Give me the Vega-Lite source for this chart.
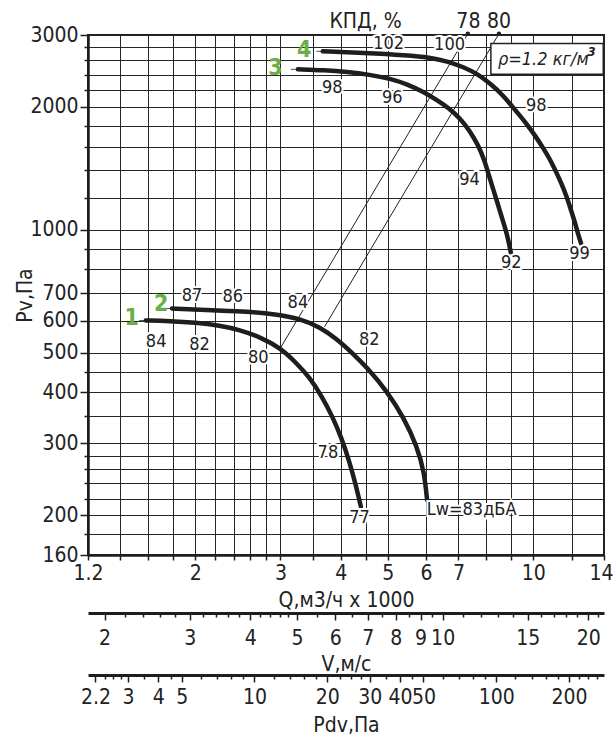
{
  "$schema": "https://vega.github.io/schema/vega-lite/v6.json",
  "width": 516,
  "height": 520,
  "autosize": {"type": "none"},
  "padding": {"left": 88, "top": 35, "right": 9, "bottom": 185},
  "background": "white",
  "config": {
    "font": "Liberation Sans Narrow, DejaVu Sans Condensed, sans-serif",
    "view": {"stroke": "#1e1e1e", "strokeWidth": 2},
    "axis": {
      "labelFontSize": 21,
      "labelColor": "#222",
      "titleFontSize": 21,
      "titleFontWeight": "normal",
      "titleColor": "#222",
      "domainColor": "#1e1e1e",
      "tickColor": "#1e1e1e",
      "labelOverlap": false,
      "labelFlush": false,
      "labelBound": false
    }
  },
  "datasets": {
    "curves": [
      {"curve": "1", "Q": 1.58, "P": 600}, {"curve": "1", "Q": 1.77, "P": 598}, {"curve": "1", "Q": 2.0, "P": 593},
      {"curve": "1", "Q": 2.25, "P": 583}, {"curve": "1", "Q": 2.47, "P": 569}, {"curve": "1", "Q": 2.72, "P": 547},
      {"curve": "1", "Q": 3.0, "P": 514}, {"curve": "1", "Q": 3.21, "P": 477}, {"curve": "1", "Q": 3.45, "P": 435},
      {"curve": "1", "Q": 3.65, "P": 392}, {"curve": "1", "Q": 3.84, "P": 350}, {"curve": "1", "Q": 4.01, "P": 310},
      {"curve": "1", "Q": 4.17, "P": 270}, {"curve": "1", "Q": 4.3, "P": 236}, {"curve": "1", "Q": 4.4, "P": 210},
      {"curve": "2", "Q": 1.79, "P": 642}, {"curve": "2", "Q": 2.04, "P": 638}, {"curve": "2", "Q": 2.36, "P": 633},
      {"curve": "2", "Q": 2.59, "P": 630}, {"curve": "2", "Q": 2.92, "P": 622}, {"curve": "2", "Q": 3.3, "P": 606},
      {"curve": "2", "Q": 3.62, "P": 578}, {"curve": "2", "Q": 3.93, "P": 540}, {"curve": "2", "Q": 4.22, "P": 500},
      {"curve": "2", "Q": 4.54, "P": 459}, {"curve": "2", "Q": 4.98, "P": 403}, {"curve": "2", "Q": 5.39, "P": 348},
      {"curve": "2", "Q": 5.75, "P": 295}, {"curve": "2", "Q": 5.95, "P": 255}, {"curve": "2", "Q": 6.03, "P": 218},
      {"curve": "3", "Q": 3.26, "P": 2472}, {"curve": "3", "Q": 3.7, "P": 2460}, {"curve": "3", "Q": 4.12, "P": 2437},
      {"curve": "3", "Q": 4.59, "P": 2399}, {"curve": "3", "Q": 5.06, "P": 2346}, {"curve": "3", "Q": 5.49, "P": 2272},
      {"curve": "3", "Q": 5.93, "P": 2177}, {"curve": "3", "Q": 6.33, "P": 2076}, {"curve": "3", "Q": 6.67, "P": 1991},
      {"curve": "3", "Q": 7.06, "P": 1875}, {"curve": "3", "Q": 7.4, "P": 1744}, {"curve": "3", "Q": 7.69, "P": 1612},
      {"curve": "3", "Q": 7.92, "P": 1482}, {"curve": "3", "Q": 8.09, "P": 1362}, {"curve": "3", "Q": 8.27, "P": 1251},
      {"curve": "3", "Q": 8.42, "P": 1170}, {"curve": "3", "Q": 8.58, "P": 1086}, {"curve": "3", "Q": 8.75, "P": 1009},
      {"curve": "3", "Q": 8.88, "P": 943}, {"curve": "3", "Q": 8.99, "P": 876},
      {"curve": "4", "Q": 3.67, "P": 2736}, {"curve": "4", "Q": 4.45, "P": 2711}, {"curve": "4", "Q": 5.48, "P": 2676},
      {"curve": "4", "Q": 6.11, "P": 2645}, {"curve": "4", "Q": 6.64, "P": 2587}, {"curve": "4", "Q": 7.17, "P": 2504},
      {"curve": "4", "Q": 7.69, "P": 2404}, {"curve": "4", "Q": 8.14, "P": 2281}, {"curve": "4", "Q": 8.62, "P": 2147},
      {"curve": "4", "Q": 8.96, "P": 2031}, {"curve": "4", "Q": 9.35, "P": 1914}, {"curve": "4", "Q": 9.71, "P": 1811},
      {"curve": "4", "Q": 10.09, "P": 1700}, {"curve": "4", "Q": 10.47, "P": 1589}, {"curve": "4", "Q": 10.82, "P": 1490},
      {"curve": "4", "Q": 11.13, "P": 1392}, {"curve": "4", "Q": 11.45, "P": 1294}, {"curve": "4", "Q": 11.73, "P": 1202},
      {"curve": "4", "Q": 11.95, "P": 1123}, {"curve": "4", "Q": 12.19, "P": 1044}, {"curve": "4", "Q": 12.36, "P": 981},
      {"curve": "4", "Q": 12.55, "P": 927}
    ],
    "leaders": [
      {"curve": "1", "Q": 1.53, "P": 600}, {"curve": "1", "Q": 1.58, "P": 600},
      {"curve": "2", "Q": 1.72, "P": 642}, {"curve": "2", "Q": 1.79, "P": 642},
      {"curve": "3", "Q": 3.15, "P": 2472}, {"curve": "3", "Q": 3.26, "P": 2472},
      {"curve": "4", "Q": 3.56, "P": 2736}, {"curve": "4", "Q": 3.67, "P": 2736}
    ],
    "eff": [
      {"eta": "78", "Q": 3.0, "P": 514}, {"eta": "78", "Q": 7.32, "P": 3020},
      {"eta": "80", "Q": 3.7, "P": 579}, {"eta": "80", "Q": 8.49, "P": 3020}
    ],
    "effTop": [
      {"eta": "78", "Q": 7.32, "P": 3020}, {"eta": "80", "Q": 8.49, "P": 3020}
    ],
    "heads": [
      {"text": "КПД, %", "Q": 4.5, "P": 3229},
      {"text": "78", "Q": 7.34, "P": 3229},
      {"text": "80", "Q": 8.49, "P": 3229}
    ],
    "labels": [
      {"text": "102", "Q": 5.02, "P": 2847},
      {"text": "100", "Q": 6.71, "P": 2834},
      {"text": "98", "Q": 10.14, "P": 2008},
      {"text": "96", "Q": 5.11, "P": 2109},
      {"text": "98", "Q": 3.84, "P": 2231},
      {"text": "94", "Q": 7.38, "P": 1323},
      {"text": "92", "Q": 9.0, "P": 828},
      {"text": "99", "Q": 12.46, "P": 872},
      {"text": "87", "Q": 1.97, "P": 689},
      {"text": "86", "Q": 2.39, "P": 686},
      {"text": "84", "Q": 3.26, "P": 664},
      {"text": "84", "Q": 1.66, "P": 532},
      {"text": "82", "Q": 2.04, "P": 523},
      {"text": "80", "Q": 2.7, "P": 485},
      {"text": "82", "Q": 4.58, "P": 538},
      {"text": "78", "Q": 3.76, "P": 285},
      {"text": "77", "Q": 4.37, "P": 197}
    ],
    "noise": [
      {"text": "Lw=83дБА", "Q": 6.02, "P": 206}
    ],
    "numbers": [
      {"text": "1", "Q": 1.477, "P": 607},
      {"text": "2", "Q": 1.7, "P": 660},
      {"text": "3", "Q": 2.93, "P": 2491},
      {"text": "4", "Q": 3.36, "P": 2752}
    ],
    "box": [
      {"Q": 8.17, "Q2": 13.95, "P": 2858, "P2": 2404}
    ],
    "rho": [
      {"text": "ρ=1.2 кг/м", "Q": 8.45, "P": 2600}
    ],
    "rhoExp": [
      {"text": "3", "Q": 13.2, "P": 2730}
    ]
  },
  "layer": [
    {
      "encoding": {
        "x": {
          "field": "Q", "type": "quantitative",
          "scale": {"type": "log", "domain": [1.2, 14], "nice": false, "zero": false},
          "axis": {
            "orient": "bottom",
            "values": [1.2, 1.4, 1.6, 1.8, 2, 2.2, 2.4, 2.6, 2.8, 3, 3.5, 4, 4.5, 5, 6, 7, 8, 9, 10, 12, 14],
            "labelExpr": "indexof([1.2, 2, 3, 4, 5, 6, 7, 10, 14], datum.value) >= 0 ? '' + datum.value : ''",
            "labelOffset": {"condition": {"test": "datum.value == 14", "value": -3}, "value": 0},
            "title": "Q,м3/ч x 1000",
            "grid": true, "gridColor": "#262626", "gridWidth": 1, "gridOpacity": 1,
            "domainWidth": 2.5, "tickWidth": 1.5, "tickSize": 5,
            "labelPadding": 2, "titlePadding": 6
          }
        },
        "y": {
          "field": "P", "type": "quantitative",
          "scale": {"type": "log", "domain": [160, 3000], "nice": false, "zero": false},
          "axis": {
            "values": [160, 180, 200, 220, 240, 260, 280, 300, 350, 400, 450, 500, 600, 700, 800, 900, 1000, 1200, 1400, 1600, 1800, 2000, 2200, 2400, 2600, 2800, 3000],
            "labelExpr": "indexof([160, 200, 300, 400, 500, 600, 700, 1000, 2000, 3000], datum.value) >= 0 ? '' + datum.value : ''",
            "title": "Pv,Па",
            "grid": true, "gridColor": "#262626", "gridWidth": 1, "gridOpacity": 1,
            "domainWidth": 2.5, "tickWidth": 1.5,
            "tickSize": {"condition": {"test": "indexof([160, 200, 300, 400, 500, 600, 700, 1000, 2000, 3000], datum.value) >= 0", "value": 8}, "value": 4},
            "labelPadding": 2, "titlePadding": -6
          }
        }
      },
      "layer": [
        {
          "data": {"name": "eff"},
          "mark": {"type": "line", "color": "#222", "strokeWidth": 1},
          "encoding": {"detail": {"field": "eta", "type": "nominal"}}
        },
        {
          "data": {"name": "effTop"},
          "mark": {"type": "point", "filled": true, "color": "#222", "size": 20, "opacity": 1}
        },
        {
          "data": {"name": "leaders"},
          "mark": {"type": "line", "color": "#555", "strokeWidth": 1},
          "encoding": {"detail": {"field": "curve", "type": "nominal"}}
        },
        {
          "data": {"name": "curves"},
          "mark": {"type": "line", "color": "#1e1e1e", "strokeWidth": 4.5, "interpolate": "basis", "strokeCap": "round"},
          "encoding": {"detail": {"field": "curve", "type": "nominal"}}
        },
        {
          "data": {"name": "box"},
          "mark": {"type": "rect", "fill": "white", "stroke": "#222", "strokeWidth": 1.5},
          "encoding": {"x2": {"field": "Q2"}, "y2": {"field": "P2"}}
        },
        {
          "data": {"name": "heads"},
          "mark": {"type": "text", "fontSize": 21, "color": "#222", "baseline": "middle"},
          "encoding": {"text": {"field": "text"}}
        },
        {
          "data": {"name": "labels"},
          "mark": {"type": "text", "fontSize": 18, "stroke": "white", "strokeWidth": 4, "fill": "white", "baseline": "middle"},
          "encoding": {"text": {"field": "text"}}
        },
        {
          "data": {"name": "labels"},
          "mark": {"type": "text", "fontSize": 18, "color": "#222", "baseline": "middle"},
          "encoding": {"text": {"field": "text"}}
        },
        {
          "data": {"name": "noise"},
          "mark": {"type": "text", "fontSize": 18, "stroke": "white", "strokeWidth": 4, "fill": "white", "baseline": "middle", "align": "left"},
          "encoding": {"text": {"field": "text"}}
        },
        {
          "data": {"name": "noise"},
          "mark": {"type": "text", "fontSize": 18, "color": "#222", "baseline": "middle", "align": "left"},
          "encoding": {"text": {"field": "text"}}
        },
        {
          "data": {"name": "numbers"},
          "mark": {"type": "text", "fontSize": 23, "fontWeight": "bold", "color": "#6aaf45", "baseline": "middle"},
          "encoding": {"text": {"field": "text"}}
        },
        {
          "data": {"name": "rho"},
          "mark": {"type": "text", "fontSize": 18, "fontStyle": "italic", "color": "#222", "baseline": "middle", "align": "left"},
          "encoding": {"text": {"field": "text"}}
        },
        {
          "data": {"name": "rhoExp"},
          "mark": {"type": "text", "fontSize": 13, "fontWeight": "bold", "fontStyle": "italic", "color": "#222", "baseline": "middle"},
          "encoding": {"text": {"field": "text"}}
        }
      ]
    },
    {
      "data": {"values": [{"V": 2}, {"V": 20}]},
      "mark": {"type": "point", "opacity": 0},
      "encoding": {
        "x": {
          "field": "V", "type": "quantitative",
          "scale": {"type": "log", "domain": [1.848, 21.56], "nice": false, "zero": false},
          "axis": {
            "orient": "bottom", "offset": 58,
            "values": [2, 2.2, 2.4, 2.6, 2.8, 3, 3.2, 3.4, 3.6, 3.8, 4, 4.2, 4.4, 4.6, 4.8, 5, 5.5, 6, 6.5, 7, 7.5, 8, 8.5, 9, 9.5, 10, 11, 12, 13, 14, 15, 16, 17, 18, 19, 20, 21],
            "labelExpr": "indexof([2, 3, 4, 5, 6, 7, 8, 9, 10, 15, 20], datum.value) >= 0 ? '' + datum.value : ''",
            "title": "V,м/с",
            "grid": false,
            "domainWidth": 3, "tickWidth": 1.5,
            "tickSize": {"condition": {"test": "indexof([2, 3, 4, 5, 6, 7, 8, 9, 10, 15, 20], datum.value) >= 0", "value": 7}, "value": 4},
            "labelPadding": 7, "titlePadding": 5
          }
        }
      }
    },
    {
      "data": {"values": [{"Pdv": 10}, {"Pdv": 100}]},
      "mark": {"type": "point", "opacity": 0},
      "encoding": {
        "x": {
          "field": "Pdv", "type": "quantitative",
          "scale": {"type": "log", "domain": [2.049, 278.9], "nice": false, "zero": false},
          "axis": {
            "orient": "bottom", "offset": 120,
            "values": [2.2, 2.4, 2.6, 2.8, 3, 3.5, 4, 4.5, 5, 6, 7, 8, 9, 10, 12, 14, 16, 18, 20, 22.5, 25, 27.5, 30, 35, 40, 45, 50, 60, 70, 80, 90, 100, 120, 140, 160, 180, 200, 220, 240, 260],
            "labelExpr": "indexof([2.2, 3, 4, 5, 10, 20, 30, 40, 50, 100, 200], datum.value) >= 0 ? '' + datum.value : ''",
            "title": "Pdv,Па",
            "grid": false,
            "domainWidth": 3, "tickWidth": 1.5,
            "tickSize": {"condition": {"test": "indexof([2.2, 3, 4, 5, 10, 20, 30, 40, 50, 100, 200], datum.value) >= 0", "value": 7}, "value": 4},
            "labelPadding": 4, "titlePadding": 7
          }
        }
      }
    }
  ],
  "resolve": {"scale": {"x": "independent"}, "axis": {"x": "independent"}}
}
